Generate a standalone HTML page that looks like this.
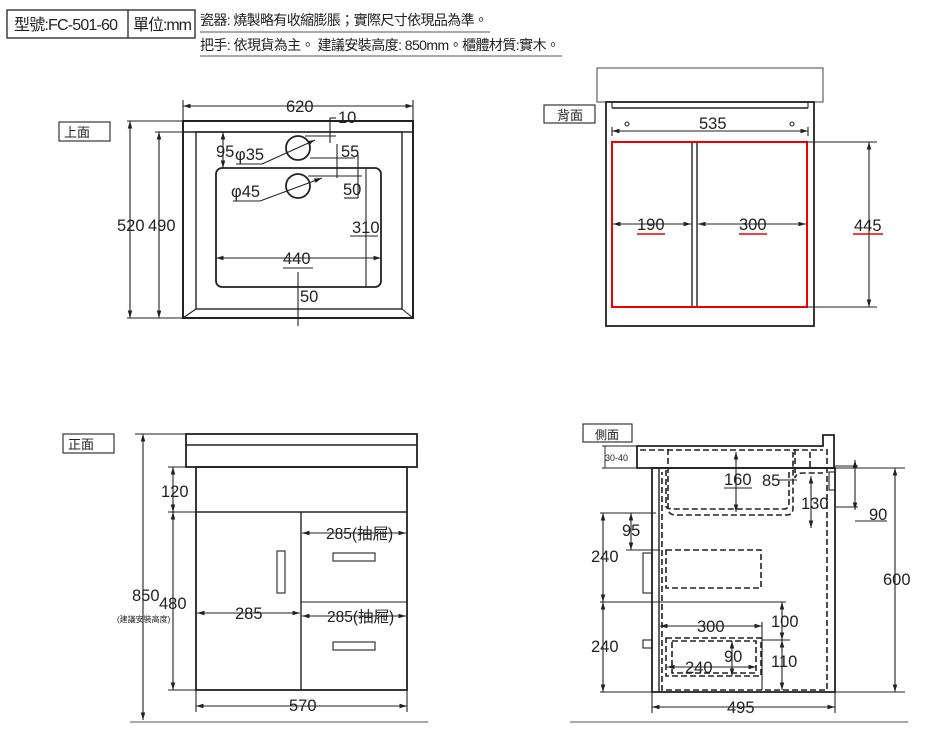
<!DOCTYPE html>
<html><head><meta charset="utf-8"><style>
html,body{margin:0;padding:0;background:#fff;}
svg{display:block}
text{font-family:"Liberation Sans","Noto Sans CJK TC",sans-serif;fill:#222;}
.d{font-size:16.5px;}
</style></head><body>
<svg width="949" height="732" viewBox="0 0 949 732" xmlns="http://www.w3.org/2000/svg">
<defs>
<marker id="a" viewBox="0 0 10 10" refX="10" refY="5" markerWidth="7" markerHeight="7" orient="auto-start-reverse"><path d="M0,2 L10,5 L0,8 z" fill="#222"/></marker>
</defs>
<rect width="949" height="732" fill="#fff"/>
<!-- header -->
<rect x="7" y="10" width="188" height="28" fill="none" stroke="#222" stroke-width="1.3"/>
<line x1="128" y1="10" x2="128" y2="38" stroke="#222" stroke-width="1.3"/>
<text x="14" y="30" font-size="16" textLength="104">型號:FC-501-60</text>
<text x="133" y="30" font-size="16" textLength="59">單位:mm</text>
<text x="200" y="25" font-size="14" textLength="288">瓷器: 燒製略有收縮膨脹；實際尺寸依現品為準。</text>
<line x1="200" y1="32" x2="490" y2="32" stroke="#555"/>
<text x="200" y="50" font-size="14" textLength="360">把手: 依現貨為主。 建議安裝高度: 850mm。櫃體材質:實木。</text>
<line x1="200" y1="56" x2="562" y2="56" stroke="#555"/>

<g stroke="#222" fill="none" stroke-width="1.1">
<!-- TOP VIEW -->
<rect x="59" y="122" width="51" height="19"/>
<rect x="183" y="121" width="230" height="197" stroke-width="2"/>
<line x1="183" y1="132" x2="413" y2="132" stroke-width="1.6"/>
<rect x="196" y="132" width="206" height="177" stroke-width="1.4"/>
<line x1="183" y1="318" x2="196" y2="309"/><line x1="413" y1="318" x2="402" y2="309"/>
<rect x="216" y="168" width="165" height="119" rx="6" stroke-width="1.8"/>
<circle cx="298" cy="148" r="12" stroke-width="1.8"/>
<circle cx="298" cy="186" r="12" stroke-width="1.8"/>
<line x1="183" y1="106" x2="413" y2="106" marker-start="url(#a)" marker-end="url(#a)"/>
<line x1="183" y1="100" x2="183" y2="121"/><line x1="413" y1="100" x2="413" y2="121"/>
<line x1="130" y1="121" x2="130" y2="318" marker-start="url(#a)" marker-end="url(#a)"/>
<line x1="127" y1="121" x2="183" y2="121"/><line x1="127" y1="318" x2="183" y2="318"/>
<line x1="159" y1="132" x2="159" y2="318" marker-start="url(#a)" marker-end="url(#a)"/>
<line x1="155" y1="132" x2="196" y2="132"/>
<line x1="223" y1="132" x2="223" y2="168" marker-start="url(#a)" marker-end="url(#a)"/>
<line x1="236" y1="164" x2="262" y2="164"/><line x1="262" y1="164" x2="315" y2="140" marker-end="url(#a)"/>
<line x1="233" y1="201" x2="260" y2="201"/><line x1="260" y1="201" x2="322" y2="178" marker-end="url(#a)"/>
<line x1="330" y1="118" x2="330" y2="143"/><line x1="330" y1="118" x2="336" y2="118"/><line x1="305" y1="136" x2="336" y2="136"/>
<line x1="310" y1="158" x2="355" y2="158"/><line x1="337" y1="144" x2="337" y2="178"/>
<line x1="308" y1="176" x2="362" y2="176"/><line x1="358" y1="155" x2="358" y2="198"/><line x1="344" y1="198" x2="358" y2="198"/>
<line x1="366" y1="168" x2="366" y2="287"/><line x1="350" y1="236" x2="378" y2="236"/>
<line x1="216" y1="258" x2="381" y2="258" marker-start="url(#a)" marker-end="url(#a)"/>
<line x1="283" y1="268" x2="313" y2="268"/>
<line x1="298" y1="272" x2="298" y2="326"/>
<!-- BACK VIEW -->
<rect x="544" y="105" width="51" height="18"/>
<rect x="597" y="68" width="226" height="34" stroke="#555"/>
<rect x="606" y="102" width="208" height="224" stroke-width="1.8"/>
<line x1="612" y1="102" x2="612" y2="108"/><line x1="808" y1="102" x2="808" y2="108"/>
<line x1="612" y1="108" x2="808" y2="108" stroke-width="1.6"/>
<circle cx="627" cy="124" r="2"/><circle cx="792" cy="124" r="2"/>
<line x1="612" y1="131" x2="808" y2="131" marker-start="url(#a)" marker-end="url(#a)"/>
<line x1="612" y1="127" x2="612" y2="136"/><line x1="808" y1="127" x2="808" y2="136"/>
<line x1="692" y1="142" x2="692" y2="307" stroke-width="1.4"/><line x1="697" y1="142" x2="697" y2="307" stroke-width="1.4"/>
<rect x="612" y="142" width="195" height="165" stroke="#e00" stroke-width="2"/>
<line x1="613" y1="224" x2="691" y2="224" marker-start="url(#a)" marker-end="url(#a)"/>
<line x1="698" y1="224" x2="806" y2="224" marker-start="url(#a)" marker-end="url(#a)"/>
<line x1="807" y1="142" x2="877" y2="142"/><line x1="807" y1="307" x2="877" y2="307"/>
<line x1="869" y1="142" x2="869" y2="307" marker-start="url(#a)" marker-end="url(#a)"/>
<!-- FRONT VIEW -->
<rect x="63" y="434" width="51" height="19"/>
<rect x="186" y="434" width="231" height="33" stroke-width="1.8"/>
<line x1="186" y1="445" x2="417" y2="445" stroke-width="1.4"/>
<rect x="196" y="467" width="211" height="223" stroke-width="1.8"/>
<line x1="196" y1="512" x2="407" y2="512" stroke-width="1.4"/>
<line x1="301" y1="512" x2="301" y2="690" stroke-width="1.4"/>
<line x1="301" y1="602" x2="407" y2="602"/>
<rect x="277" y="551" width="8" height="42"/>
<rect x="333" y="553" width="42" height="8"/>
<rect x="333" y="642" width="42" height="8"/>
<line x1="143" y1="434" x2="143" y2="720" marker-start="url(#a)" marker-end="url(#a)"/>
<line x1="135" y1="434" x2="186" y2="434"/>
<line x1="130" y1="722" x2="428" y2="722" stroke="#555"/>
<line x1="173" y1="467" x2="173" y2="512" marker-start="url(#a)" marker-end="url(#a)"/>
<line x1="173" y1="512" x2="173" y2="690" marker-start="url(#a)" marker-end="url(#a)"/>
<line x1="168" y1="467" x2="196" y2="467"/><line x1="168" y1="512" x2="196" y2="512"/><line x1="168" y1="690" x2="196" y2="690"/>
<line x1="196" y1="706" x2="407" y2="706" marker-start="url(#a)" marker-end="url(#a)"/>
<line x1="196" y1="690" x2="196" y2="712"/><line x1="407" y1="690" x2="407" y2="712"/>
<line x1="197" y1="613" x2="300" y2="613" marker-start="url(#a)" marker-end="url(#a)"/>
<line x1="302" y1="533" x2="406" y2="533" marker-start="url(#a)" marker-end="url(#a)"/>
<line x1="302" y1="616" x2="406" y2="616" marker-start="url(#a)" marker-end="url(#a)"/>
<!-- SIDE VIEW -->
<rect x="583" y="424" width="49" height="18"/>
<path d="M637,446 H823 V435 H834 V468 H637 Z" stroke-width="1.8"/>
<rect x="652" y="468" width="183" height="224" stroke-width="1.8"/>
<line x1="659" y1="468" x2="659" y2="692" stroke-width="1.4"/>
<rect x="643" y="553" width="9" height="40"/><rect x="643" y="640" width="9" height="8"/>
<rect x="829" y="472" width="6" height="18"/>
<g stroke-dasharray="6,3" stroke-width="1.6">
<path d="M668,449 V508 Q668,515 676,515 H787 Q793,515 793,508 V452"/>
<path d="M666,470 V506 Q666,509 674,509 H784 Q789,509 789,502 V470"/>
<path d="M795,449 V478 Q796,473 803,473 H823"/>
<path d="M827,449 V690 H662 V472"/>
<path d="M810,452 V468"/>
<rect x="666" y="550" width="95" height="38"/>
<rect x="666" y="638" width="95" height="38"/>
<rect x="672" y="641" width="84" height="32"/>
<line x1="640" y1="450" x2="823" y2="450"/>
</g>
<line x1="605" y1="446" x2="605" y2="468" stroke="#444"/>
<line x1="602" y1="446" x2="637" y2="446"/><line x1="602" y1="468" x2="637" y2="468"/>
<line x1="895" y1="468" x2="895" y2="692" marker-start="url(#a)" marker-end="url(#a)"/>
<line x1="835" y1="468" x2="905" y2="468"/><line x1="835" y1="692" x2="905" y2="692"/>
<line x1="855" y1="460" x2="855" y2="510" marker-start="url(#a)" marker-end="url(#a)"/>
<line x1="835" y1="466" x2="858" y2="466"/><line x1="835" y1="507" x2="858" y2="507"/>
<line x1="855" y1="521" x2="887" y2="521"/>
<line x1="811" y1="476" x2="811" y2="528" marker-start="url(#a)" marker-end="url(#a)"/>
<line x1="736" y1="452" x2="736" y2="512" marker-start="url(#a)" marker-end="url(#a)"/>
<line x1="724" y1="488" x2="752" y2="488"/>
<line x1="777" y1="480" x2="797" y2="480"/>
<line x1="652" y1="707" x2="835" y2="707" marker-start="url(#a)" marker-end="url(#a)"/>
<line x1="652" y1="692" x2="652" y2="713"/><line x1="835" y1="692" x2="835" y2="713"/>
<line x1="570" y1="722" x2="908" y2="722" stroke="#555"/>
<line x1="603" y1="513" x2="603" y2="602" marker-start="url(#a)" marker-end="url(#a)"/>
<line x1="603" y1="602" x2="603" y2="692" marker-start="url(#a)" marker-end="url(#a)"/>
<line x1="600" y1="513" x2="656" y2="513"/><line x1="600" y1="602" x2="786" y2="602"/><line x1="600" y1="692" x2="652" y2="692"/>
<line x1="631" y1="513" x2="631" y2="550" marker-start="url(#a)" marker-end="url(#a)"/>
<line x1="626" y1="550" x2="660" y2="550"/>
<line x1="660" y1="626" x2="762" y2="626" marker-start="url(#a)" marker-end="url(#a)"/>
<line x1="762" y1="622" x2="762" y2="690"/>
<line x1="782" y1="602" x2="782" y2="640" marker-start="url(#a)" marker-end="url(#a)"/>
<line x1="782" y1="640" x2="782" y2="690" marker-start="url(#a)" marker-end="url(#a)"/>
<line x1="762" y1="640" x2="790" y2="640"/>
<line x1="667" y1="667" x2="756" y2="667" marker-start="url(#a)" marker-end="url(#a)"/>
<line x1="732" y1="641" x2="732" y2="676" marker-start="url(#a)" marker-end="url(#a)"/>
</g>

<g class="d">
<text x="64" y="137" font-size="13">上面</text>
<text x="286" y="112">620</text>
<text x="338" y="123">10</text>
<text x="216" y="157">95</text>
<text x="235" y="160">φ35</text>
<text x="341" y="157">55</text>
<text x="231" y="197">φ45</text>
<text x="343" y="195">50</text>
<text x="352" y="233">310</text>
<text x="283" y="264">440</text>
<text x="300" y="302">50</text>
<text x="117" y="231">520</text>
<text x="148" y="231">490</text>
<text x="557" y="120" font-size="13">背面</text>
<text x="699" y="129">535</text>
<text x="637" y="230">190</text>
<text x="739" y="230">300</text>
<text x="854" y="231">445</text>
<text x="68" y="449" font-size="13">正面</text>
<text x="161" y="497">120</text>
<text x="132" y="601">850</text>
<text x="117" y="622" font-size="8">(建議安裝高度)</text>
<text x="159" y="609">480</text>
<text x="235" y="619">285</text>
<text x="326" y="539" font-size="15.5">285(抽屜)</text>
<text x="327" y="622" font-size="15.5">285(抽屜)</text>
<text x="289" y="711">570</text>
<text x="595" y="439" font-size="12">側面</text>
<text x="605" y="461" font-size="9">30-40</text>
<text x="724" y="485">160</text>
<text x="762" y="486">85</text>
<text x="801" y="509">130</text>
<text x="869" y="520">90</text>
<text x="883" y="585">600</text>
<text x="622" y="536">95</text>
<text x="591" y="562">240</text>
<text x="591" y="652">240</text>
<text x="697" y="632">300</text>
<text x="771" y="627">100</text>
<text x="724" y="662">90</text>
<text x="771" y="667">110</text>
<text x="685" y="673">240</text>
<text x="727" y="713">495</text>
</g>
<g stroke="#e00" stroke-width="1.5">
<line x1="637" y1="234" x2="665" y2="234"/><line x1="739" y1="234" x2="767" y2="234"/><line x1="853" y1="234" x2="883" y2="234"/>
</g>
</svg>
</body></html>
